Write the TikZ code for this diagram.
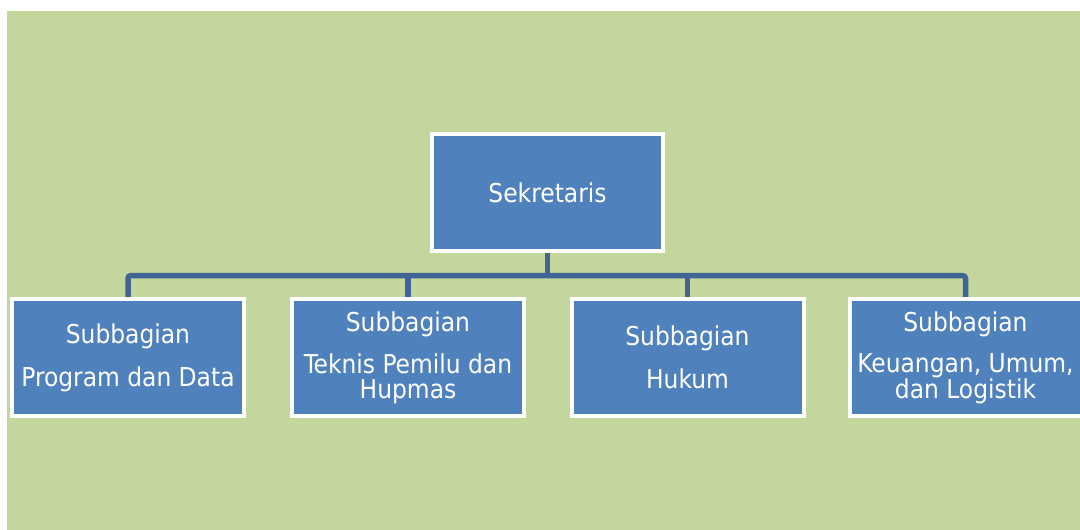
\documentclass[tikz,border=0pt]{standalone}
\usepackage{fontspec}
\setmainfont{DejaVu Sans Condensed}
\usetikzlibrary{backgrounds,shadows}
\definecolor{bggreen}{RGB}{195,214,155}
\definecolor{boxblue}{RGB}{79,129,189}
\definecolor{connblue}{RGB}{64,100,150}
\tikzset{
  orgbox/.style={draw=white, line width=4pt, fill=boxblue, text=white,
    align=center, inner sep=0pt,
    font=\fontsize{26}{25}\selectfont,
    drop shadow={shadow xshift=0.8pt, shadow yshift=-0.8pt, opacity=0.35, fill=black!60}},
  topbox/.style={orgbox, minimum width=231pt, minimum height=117pt},
  subbox/.style={orgbox, minimum width=232pt, minimum height=117pt},
  conn/.style={draw=connblue, line width=5.5pt, rounded corners=3pt}
}
\begin{document}
\begin{tikzpicture}[x=1pt,y=-1pt]
\useasboundingbox (0,0) rectangle (1080,530);
\begin{scope}
\clip (0,0) rectangle (1080,530);
\node[topbox] (sek) at (547.5,192.5) {Sekretaris};
\node[subbox] (b1) at (128,357.5) {Subbagian\\[17pt]Program dan Data};
\node[subbox] (b2) at (408,357.5) {Subbagian\\[16pt]Teknis Pemilu dan\\Hupmas};
\node[subbox] (b3) at (687.5,357.5) {Subbagian\\[17pt]Hukum};
\node[subbox] (b4) at (965.5,357.5) {Subbagian\\[16pt]Keuangan, Umum,\\dan Logistik};
\coordinate (bus) at (548,275.5);
\begin{pgfonlayer}{background}
\fill[white] (0,0) rectangle (1080,530);
\fill[bggreen] (7,11) rectangle (1080,530);
\draw[conn] (b1.north) -- (b1.north |- bus) -- (b4.north |- bus) -- (b4.north);
\draw[conn] (sek.south) -- (sek.south |- bus);
\draw[conn] (b2.north) -- (b2.north |- bus);
\draw[conn] (b3.north) -- (b3.north |- bus);
\end{pgfonlayer}
\end{scope}
\end{tikzpicture}
\end{document}
